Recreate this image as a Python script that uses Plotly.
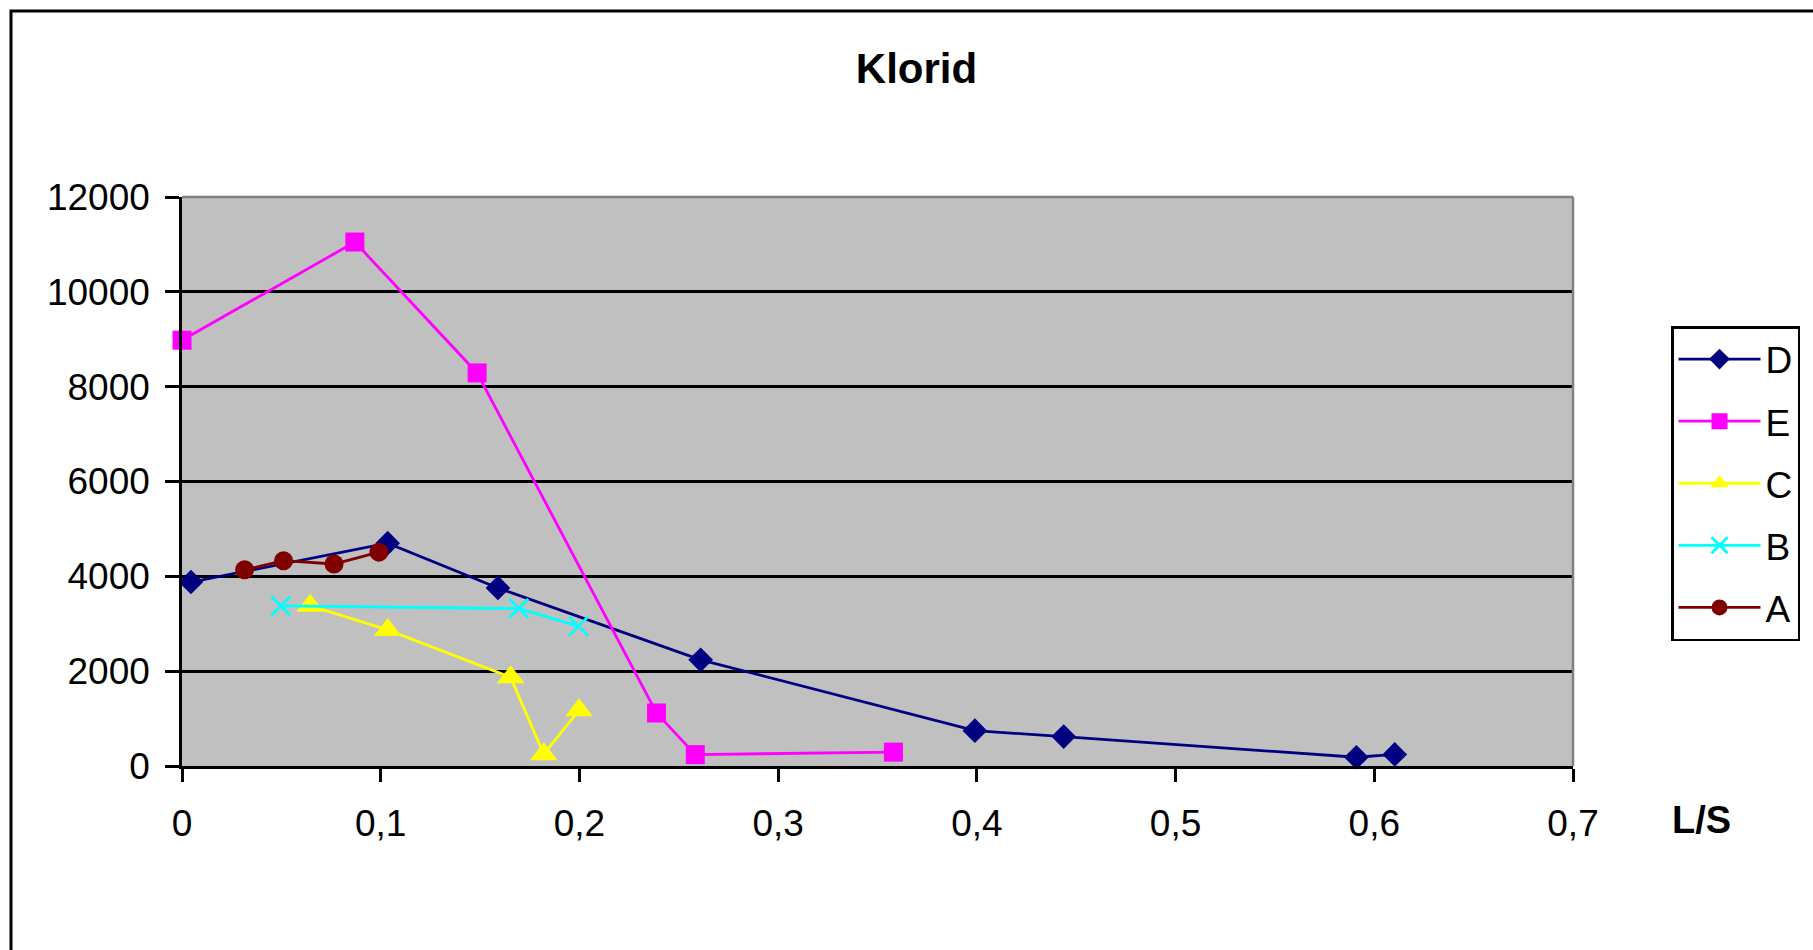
import plotly.graph_objects as go

# Data
series_names = ["D", "E", "C", "B", "A"]

d_x = [0.0045, 0.1035, 0.159, 0.261, 0.399, 0.4437, 0.591, 0.6103]
d_y = [3880, 4700, 3755, 2240, 745, 620, 185, 245]

e_x = [0.0, 0.087, 0.1485, 0.2388, 0.2583, 0.358]
e_y = [8980, 11050, 8290, 1118, 240, 293]

c_x = [0.0645, 0.1035, 0.1654, 0.182, 0.1998]
c_y = [3380, 2870, 1870, 250, 1175]

b_x = [0.0497, 0.1695, 0.1996]
b_y = [3375, 3320, 2950]

a_x = [0.0315, 0.0511, 0.0765, 0.0991]
a_y = [4137, 4330, 4260, 4510]

FONT = "Liberation Sans, Arial, sans-serif"

styles = {
    "D": dict(color="#000080", symbol="diamond", size=19),
    "E": dict(color="#FF00FF", symbol="square", size=19),
    "C": dict(color="#FFFF00", symbol="triangle-up", size=24),
    "B": dict(color="#00FFFF", symbol="x-thin", size=19),
    "A": dict(color="#800000", symbol="circle", size=19),
}
data = {"D": (d_x, d_y), "E": (e_x, e_y), "C": (c_x, c_y), "B": (b_x, b_y), "A": (a_x, a_y)}

fig = go.Figure()
for name in series_names:
    xs, ys = data[name]
    st = styles[name]
    marker = dict(color=st["color"], symbol=st["symbol"], size=st["size"])
    if st["symbol"] == "x-thin":
        marker["line"] = dict(color=st["color"], width=2.8)
    else:
        marker["line"] = dict(width=0)
    fig.add_trace(go.Scatter(
        x=xs, y=ys, name=name, mode="lines+markers",
        line=dict(color=st["color"], width=2.8),
        marker=marker, cliponaxis=False, legendgroup=name,
    ))

W, H = 1813, 950
L, R, T, B = 182, 240, 197, 184

fig.update_layout(
    width=W, height=H,
    margin=dict(l=L, r=R, t=T, b=B, pad=0),
    paper_bgcolor="white",
    plot_bgcolor="#C0C0C0",
    separators=",.",
    font=dict(family=FONT, size=37, color="black"),
    title=dict(text="<b>Klorid</b>", x=916.5 / W, xanchor="center",
               y=1 - 68 / H, yanchor="middle",
               font=dict(family=FONT, size=42, color="black")),
    showlegend=True,
    legend=dict(
        x=(1671 - L) / (W - L - R), xanchor="left",
        y=(H - B - 326) / (H - T - B), yanchor="top",
        bgcolor="white", bordercolor="black", borderwidth=2.5,
        font=dict(family=FONT, size=37, color="black"),
        tracegroupgap=11, traceorder="grouped", itemwidth=82,
    ),
    xaxis=dict(
        range=[0, 0.7], dtick=0.1, tick0=0,
        showgrid=False, zeroline=False,
        showline=True, linecolor="black", linewidth=2.5,
        ticks="outside", ticklen=13, tickwidth=2.5, tickcolor="black",
        ticklabelstandoff=10,
        tickfont=dict(family=FONT, size=37, color="black"),
    ),
    yaxis=dict(
        range=[0, 12000], dtick=2000, tick0=0, tickformat="d",
        showgrid=True, gridcolor="black", gridwidth=2.5,
        zeroline=False,
        showline=True, linecolor="black", linewidth=2.5,
        ticks="outside", ticklen=14, tickwidth=2.5, tickcolor="black",
        ticklabelstandoff=8,
        tickfont=dict(family=FONT, size=37, color="black"),
    ),
)

pw = W - L - R
ph = H - T - B
fig.add_annotation(
    text="<b>L/S</b>", xref="paper", yref="paper",
    x=(1701 - L) / pw, y=(H - B - 820) / ph,
    xanchor="center", yanchor="middle", showarrow=False,
    font=dict(family=FONT, size=38, color="black"),
)

# outer chart border (extends beyond the visible canvas on right/bottom)
fig.add_shape(type="rect", xref="paper", yref="paper",
              x0=(11 - L) / pw, x1=1.3, y0=-0.5, y1=(H - B - 11) / ph,
              line=dict(color="black", width=3), fillcolor="rgba(0,0,0,0)", layer="below")
# grey plot-area frame on top and right
fig.add_shape(type="line", xref="paper", yref="paper", x0=0, x1=1, y0=1, y1=1,
              line=dict(color="#808080", width=2.5), layer="above")
fig.add_shape(type="line", xref="paper", yref="paper", x0=1, x1=1, y0=0, y1=1,
              line=dict(color="#808080", width=2.5), layer="above")

fig.write_html("out.html")
